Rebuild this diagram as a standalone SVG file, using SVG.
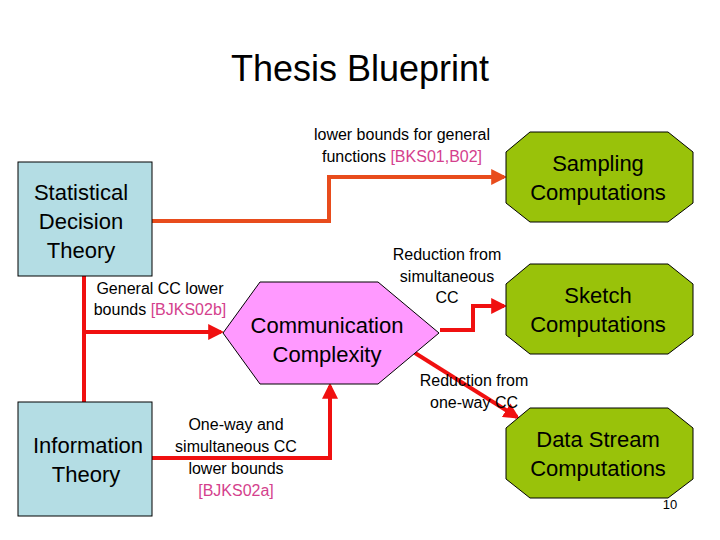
<svg xmlns="http://www.w3.org/2000/svg" width="720" height="540" viewBox="0 0 720 540">
<style>
text{font-family:"Liberation Sans",Arial,sans-serif;fill:#000}
.n{font-size:22px;text-anchor:middle}
.l{font-size:16px;text-anchor:middle}
.r{fill:#d43f8d}
.box{fill:#b4dde4;stroke:#000;stroke-width:1}
.oct{fill:#99c20a;stroke:#000;stroke-width:1}
.c{fill:none;stroke:#f01010;stroke-width:4}
</style>
<defs>
<marker id="a" markerWidth="4" markerHeight="4" refX="3.2" refY="2" orient="auto" markerUnits="strokeWidth"><path d="M0,0L4,2L0,4z" fill="#f01010"/></marker>
<marker id="b" markerWidth="4" markerHeight="4" refX="3.2" refY="2" orient="auto" markerUnits="strokeWidth"><path d="M0,0L4,2L0,4z" fill="#e84c1c"/></marker>
</defs>
<rect width="720" height="540" fill="#fff"/>
<text x="360" y="81" style="font-size:36px;text-anchor:middle">Thesis Blueprint</text>
<g id="connectors">
<polyline class="c" style="stroke:#e84c1c" points="152,221 329,221 329,177 504,177" marker-end="url(#b)"/>
<polyline class="c" points="84,276 84,402"/>
<polyline class="c" points="84,332 221,332" marker-end="url(#a)"/>
<polyline class="c" points="440,330 473,330 473,306 504,306" marker-end="url(#a)"/>
<line class="c" x1="415" y1="353" x2="517" y2="417" marker-end="url(#a)"/>
<polyline class="c" points="152,458 330,458 330,386" marker-end="url(#a)"/>
</g>
<g id="sdt"><rect class="box" x="18" y="162" width="134" height="114"/>
<text class="n" x="81" y="200">Statistical</text><text class="n" x="81" y="229">Decision</text><text class="n" x="81" y="258">Theory</text></g>
<g id="it"><rect class="box" x="18" y="402" width="134" height="114"/>
<text class="n" x="88" y="453">Information</text><text class="n" x="86" y="482">Theory</text></g>
<g id="cc"><polygon points="223,333 260,282 378,282 439,333 378,384 260,384" fill="#ff99ff" stroke="#000"/>
<text class="n" x="327" y="333">Communication</text><text class="n" x="327" y="362">Complexity</text></g>
<g id="samp"><polygon class="oct" points="530,132 668,132 693,152 693,203 668,222 530,222 506,203 506,152"/>
<text class="n" x="598" y="171">Sampling</text><text class="n" x="598" y="200">Computations</text></g>
<g id="sketch"><polygon class="oct" points="530,264 668,264 693,284 693,335 668,354 530,354 506,335 506,284"/>
<text class="n" x="598" y="303">Sketch</text><text class="n" x="598" y="332">Computations</text></g>
<g id="ds"><polygon class="oct" points="530,408 668,408 693,428 693,479 668,498 530,498 506,479 506,428"/>
<text class="n" x="598" y="447">Data Stream</text><text class="n" x="598" y="476">Computations</text></g>
<g id="labels">
<text class="l" x="402" y="140">lower bounds for general</text>
<text class="l" x="402" y="162">functions <tspan class="r">[BKS01,B02]</tspan></text>
<text class="l" x="160" y="294">General CC lower</text>
<text class="l" x="160" y="315">bounds <tspan class="r">[BJKS02b]</tspan></text>
<text class="l" x="447" y="260">Reduction from</text>
<text class="l" x="447" y="282">simultaneous</text>
<text class="l" x="447" y="303">CC</text>
<text class="l" x="474" y="386">Reduction from</text>
<text class="l" x="474" y="408">one-way CC</text>
<text class="l" x="236" y="430">One-way and</text>
<text class="l" x="236" y="452">simultaneous CC</text>
<text class="l" x="236" y="474">lower bounds</text>
<text class="l r" x="236" y="496">[BJKS02a]</text>
<text x="670" y="509" style="font-size:13px;text-anchor:middle">10</text>
</g>
</svg>
